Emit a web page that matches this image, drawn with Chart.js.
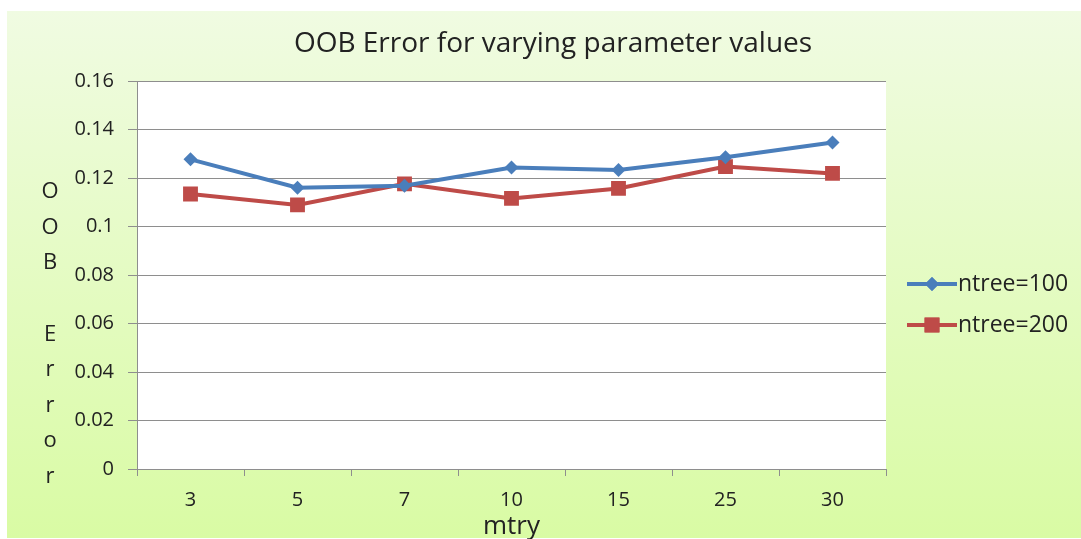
<!DOCTYPE html>
<html lang="en">
<head>
  <meta charset="UTF-8" />
  <title>OOB Error for varying parameter values</title>
  <script src="https://cdn.jsdelivr.net/npm/chart.js"></script>
  <style>
    html, body { margin: 0; padding: 0; background: #fff; }
    #wrap { width: 1081px; height: 539px; }
  </style>
</head>
<body>
  <div id="wrap"><canvas id="oobChart"></canvas></div>

  <script>
    const mtry = ['3', '5', '7', '10', '15', '25', '30'];
    const ntree100 = [0.1277, 0.1160, 0.1168, 0.1243, 0.1233, 0.1286, 0.1346];
    const ntree200 = [0.1134, 0.1089, 0.1176, 0.1116, 0.1157, 0.1247, 0.1219];
    const seriesNames = ['ntree=100', 'ntree=200'];
    const chartTitle = 'OOB Error for varying parameter values';
    const yTitleLetters = ['O', 'O', 'B', '', 'E', 'r', 'r', 'o', 'r'];

    const blue = '#4a7ebb';
    const red = '#be4b48';
    const textColor = '#222';
    const gridColor = '#8e8e8e';
    const font = '"Open Sans", sans-serif';

    // background, title, stacked y title and legend
    const decor = {
      id: 'decor',
      beforeDraw(chart) {
        const { ctx, chartArea } = chart;
        ctx.save();
        ctx.fillStyle = '#fff';
        ctx.fillRect(0, 0, chart.width, chart.height);
        const g = ctx.createLinearGradient(0, 11, 0, 538);
        g.addColorStop(0, '#f0fbe2');
        g.addColorStop(1, '#d9fba4');
        ctx.fillStyle = g;
        ctx.fillRect(7, 11, chart.width - 7, 527);
        ctx.fillStyle = '#fff';
        ctx.fillRect(chartArea.left, chartArea.top, chartArea.right - chartArea.left, chartArea.bottom - chartArea.top);
        ctx.restore();
      },
      afterDraw(chart) {
        const { ctx } = chart;
        ctx.save();
        ctx.fillStyle = textColor;
        ctx.textBaseline = 'middle';
        ctx.textAlign = 'center';
        ctx.font = '28px ' + font;
        ctx.fillText(chartTitle, 553, 44);

        ctx.font = '22px ' + font;
        yTitleLetters.forEach((ch, i) => {
          ctx.fillText(ch, 50, 192 + i * 35.6);
        });

        const items = [
          { name: seriesNames[0], color: blue, style: 'rectRot', r: 7, y: 284 },
          { name: seriesNames[1], color: red, style: 'rect', r: 10.5, y: 325 }
        ];
        items.forEach(it => {
          ctx.strokeStyle = it.color;
          ctx.lineWidth = 4;
          ctx.beginPath();
          ctx.moveTo(907, it.y);
          ctx.lineTo(957, it.y);
          ctx.stroke();
          ctx.fillStyle = it.color;
          Chart.helpers.drawPoint(ctx, { pointStyle: it.style, radius: it.r, borderWidth: 0 }, 932, it.y);
          ctx.fill();
          ctx.fillStyle = textColor;
          ctx.textAlign = 'left';
          ctx.font = '23px ' + font;
          ctx.fillText(it.name, 958, it.y);
        });
        ctx.restore();
      }
    };

    new Chart(document.getElementById('oobChart'), {
      type: 'line',
      data: {
        labels: mtry,
        datasets: [
          {
            label: seriesNames[0],
            data: ntree100,
            borderColor: blue,
            backgroundColor: blue,
            borderWidth: 4,
            pointStyle: 'rectRot',
            pointRadius: 7,
            pointHoverRadius: 7,
            pointBorderWidth: 0,
            tension: 0
          },
          {
            label: seriesNames[1],
            data: ntree200,
            borderColor: red,
            backgroundColor: red,
            borderWidth: 4,
            pointStyle: 'rect',
            pointRadius: 10.5,
            pointHoverRadius: 10.5,
            pointBorderWidth: 0,
            tension: 0
          }
        ]
      },
      options: {
        responsive: true,
        maintainAspectRatio: false,
        animation: false,
        layout: { padding: { left: 25, top: 81, right: 195, bottom: 0 } },
        plugins: {
          legend: { display: false },
          title: { display: false },
          tooltip: { enabled: false }
        },
        scales: {
          x: {
            offset: true,
            afterFit: s => { s.height = 70; },
            grid: {
              offset: true,
              drawOnChartArea: false,
              drawTicks: true,
              tickLength: 7,
              color: gridColor
            },
            border: { color: gridColor, width: 1 },
            ticks: { color: textColor, padding: 12, font: { family: font, size: 20 } },
            title: {
              display: true,
              text: 'mtry',
              color: textColor,
              padding: { top: 0, bottom: -3 },
              font: { family: font, size: 26 }
            }
          },
          y: {
            min: 0,
            max: 0.16,
            afterFit: s => { s.width = 112; },
            ticks: {
              stepSize: 0.02,
              color: textColor,
              padding: 14,
              font: { family: font, size: 20 },
              callback: v => String(Number(v.toFixed(2)))
            },
            grid: { color: gridColor, tickLength: 9 },
            border: { color: gridColor, width: 1 }
          }
        }
      },
      plugins: [decor]
    });
  </script>
</body>
</html>
